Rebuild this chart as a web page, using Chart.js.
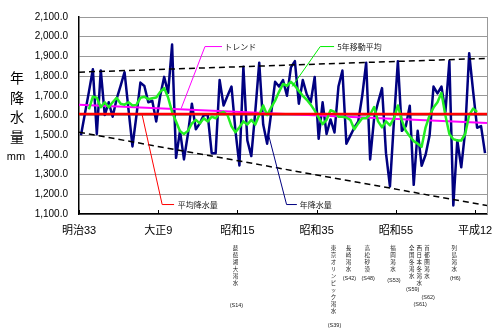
<!DOCTYPE html>
<html>
<head>
<meta charset="utf-8">
<script src="https://cdn.jsdelivr.net/npm/chart.js@4.4.0/dist/chart.umd.min.js"></script>
<style>
html, body { margin: 0; padding: 0; background: #fff; }
</style>
</head>
<body>
<canvas id="myChart" width="500" height="336"></canvas>
<script>
// annual rainfall (mm), 1900 - 2002
const rainYears = [];
for (let y = 1900; y <= 2002; y++) rainYears.push(y);
const rainValues = [
  1500, 1610, 1720, 1835, 1506, 1829, 1602, 1667, 1594, 1684,
  1750, 1820, 1630, 1443, 1600, 1767, 1750, 1667, 1675, 1570,
  1700, 1796, 1715, 1960, 1385, 1522, 1377, 1506, 1660, 1530,
  1560, 1602, 1602, 1409, 1409, 1780, 1651, 1700, 1747, 1522,
  1346, 1847, 1473, 1394, 1620, 1868, 1554, 1457, 1610, 1771,
  1747, 1780, 1700, 1844, 1876, 1660, 1780, 1708, 1667, 1796,
  1482, 1667, 1506, 1580, 1514, 1747, 1828, 1457, 1498, 1538,
  1570, 1700, 1868, 1377, 1586, 1667, 1739, 1409, 1240, 1570,
  1876, 1522, 1546, 1650, 1248, 1522, 1345, 1401, 1498, 1747,
  1712, 1747, 1618, 1876, 1143, 1473, 1337, 1522, 1916, 1723,
  1538, 1546, 1409
];

// 5-year moving average, 1902 - 2000
const maYears = [];
for (let y = 1902; y <= 2000; y++) maYears.push(y);
const maValues = [
  1631, 1696, 1690, 1642, 1667, 1642, 1667, 1690,
  1660, 1655, 1667, 1651, 1654, 1690, 1695, 1683, 1688, 1691,
  1720, 1739, 1691, 1618, 1570, 1520, 1506, 1522, 1560, 1578,
  1560, 1586, 1570, 1594, 1586, 1610, 1618, 1602, 1545, 1515,
  1540, 1570, 1554, 1578, 1554, 1602, 1651, 1602, 1640, 1675,
  1720, 1760, 1751, 1771, 1751, 1725, 1700, 1680, 1655, 1625,
  1590, 1556, 1578, 1627, 1618, 1594, 1594, 1590, 1578, 1530,
  1560, 1586, 1586, 1605, 1643, 1570, 1540, 1570, 1550, 1586,
  1651, 1575, 1522, 1495, 1470, 1457, 1441, 1540, 1600, 1640,
  1667, 1715, 1600, 1506, 1480, 1473, 1473, 1506, 1602, 1635,
  1618
];

// straight lines across the whole period
const edgeYears = [1899.5, 2002.5];
const trendValues = [1655, 1562];
const avgValues = [1607, 1607];
const upperValues = [1820, 1890];
const lowerValues = [1515, 1143];

const tickYears = [1899.5, 1919.5, 1939.5, 1959.5, 1979.5, 1999.5];
const xLabels = ['明治33', '大正9', '昭和15', '昭和35', '昭和55', '平成12'];

const droughtYears = [1939, 1964, 1967, 1973, 1978, 1984, 1986, 1987, 1994];
const droughtNames = ['琵琶湖大渇水', '東京オリンピック渇水', '長崎渇水', '高松砂漠', '福岡渇水',
                      '全国冬渇水', '西日本冬渇水', '首都圏渇水', '列島渇水'];
const droughtEras = ['(S14)', '(S39)', '(S42)', '(S48)', '(S53)', '(S59)', '(S61)', '(S62)', '(H6)'];
// layout of the notes: column nudge (px) and y of the era label
const noteNudge = [0, -1, 2, -3, 3, -2, -2.5, 1.5, 1];
const eraLabelY = [305, 325, 278, 278, 280, 289, 304, 297, 278];

const FONT = "'Liberation Sans', 'Noto Sans CJK JP', sans-serif";
const JFONT = "'Noto Sans CJK JP', sans-serif";

const pts = (xs, ys) => xs.map((x, i) => ({ x: x, y: ys[i] }));

// callout leaders in data units
const callouts = [
  { color: '#ff00ff', path: [[1925.3, 1636], [1931.3, 1950], [1935.6, 1950]], text: 'トレンド', at: [1936.2, 1950] },
  { color: '#00ee00', path: [[1953.3, 1747], [1960.4, 1950], [1963.9, 1950]], text: '5年移動平均', at: [1964.7, 1950] },
  { color: '#ff0000', path: [[1915.4, 1607], [1920.5, 1148], [1923.5, 1148]], text: '平均降水量', at: [1924.4, 1148] },
  { color: '#000080', path: [[1947.3, 1506], [1951.9, 1148], [1954.5, 1148]], text: '年降水量', at: [1955.2, 1148] }
];

const decor = {
  id: 'decor',
  afterDraw(chart) {
    const c = chart.ctx, a = chart.chartArea;
    const xs = chart.scales.x, ys = chart.scales.y;
    c.save();
    // right frame
    c.strokeStyle = '#999';
    c.lineWidth = 1;
    c.beginPath();
    c.moveTo(a.right + 0.5, a.top);
    c.lineTo(a.right + 0.5, a.bottom);
    c.stroke();
    // inner tick marks on x axis
    c.strokeStyle = '#000';
    tickYears.forEach(t => {
      const px = Math.round(xs.getPixelForValue(t)) + 0.5;
      c.beginPath();
      c.moveTo(px, a.bottom);
      c.lineTo(px, a.bottom - 4);
      c.stroke();
    });
    // callouts
    callouts.forEach(co => {
      c.strokeStyle = co.color;
      c.lineWidth = 1;
      c.beginPath();
      co.path.forEach((p, i) => {
        const px = xs.getPixelForValue(p[0]), py = ys.getPixelForValue(p[1]);
        if (i === 0) c.moveTo(px, py); else c.lineTo(px, py);
      });
      c.stroke();
      c.fillStyle = '#222';
      c.font = '8px ' + JFONT;
      c.textAlign = 'left';
      c.textBaseline = 'middle';
      c.fillText(co.text, xs.getPixelForValue(co.at[0]), ys.getPixelForValue(co.at[1]));
    });
    // y axis title, upright stacked
    c.fillStyle = '#000';
    c.textAlign = 'center';
    c.textBaseline = 'middle';
    c.font = '14px ' + JFONT;
    ['年', '降', '水', '量'].forEach((ch, i) => c.fillText(ch, 17, 78 + i * 19.5));
    c.font = '11px ' + FONT;
    c.fillText('mm', 16, 157);
    // drought notes below the axis
    droughtNames.forEach((name, i) => {
      const px = xs.getPixelForValue(droughtYears[i]) + noteNudge[i];
      c.fillStyle = '#222';
      c.font = '5.5px ' + JFONT;
      [...name].forEach((ch, k) => c.fillText(ch, px, 248 + k * 7));
      c.font = '5.5px ' + FONT;
      c.fillText(droughtEras[i], px + 1, eraLabelY[i]);
    });
    c.restore();
  }
};

const ctx = document.getElementById('myChart').getContext('2d');
const chart = new Chart(ctx, {
  type: 'line',
  data: {
    datasets: [
      { label: '平均降水量', data: pts(edgeYears, avgValues), borderColor: '#ff0000', borderWidth: 2.5 },
      { label: 'upper', data: pts(edgeYears, upperValues), borderColor: '#000', borderWidth: 1.5, borderDash: [6, 4] },
      { label: 'lower', data: pts(edgeYears, lowerValues), borderColor: '#000', borderWidth: 1.5, borderDash: [6, 4] },
      { label: '5年移動平均', data: pts(maYears, maValues), borderColor: '#22ee22', borderWidth: 2.5 },
      { label: 'トレンド', data: pts(edgeYears, trendValues), borderColor: '#ff00ff', borderWidth: 2 },
      { label: '年降水量', data: pts(rainYears, rainValues), borderColor: '#000080', borderWidth: 2.5 }
    ]
  },
  options: {
    responsive: false,
    animation: false,
    layout: { padding: { top: 7, right: 13, left: 0, bottom: 0 } },
    plugins: { legend: { display: false }, tooltip: { enabled: false } },
    elements: { point: { radius: 0 }, line: { tension: 0, borderJoinStyle: 'round' } },
    scales: {
      x: {
        type: 'linear',
        min: 1899.5,
        max: 2002.5,
        afterBuildTicks: s => { s.ticks = tickYears.map(v => ({ value: v })); },
        afterFit: s => { s.height = 122; },
        grid: { display: false },
        border: { display: true, color: '#000', width: 1.5 },
        ticks: {
          autoSkip: false, maxRotation: 0, padding: 2, color: '#000',
          font: { size: 11, family: FONT },
          callback: (v, i) => xLabels[i]
        }
      },
      y: {
        min: 1100,
        max: 2100,
        afterFit: s => { s.width = 79; },
        grid: { color: '#999', drawTicks: false },
        border: { color: '#000', width: 1.5 },
        ticks: {
          stepSize: 100, padding: 11, color: '#000',
          font: { size: 10, family: FONT },
          callback: v => v.toLocaleString('en-US', { minimumFractionDigits: 1, maximumFractionDigits: 1 })
        }
      }
    }
  },
  plugins: [decor]
});
</script>
</body>
</html>
